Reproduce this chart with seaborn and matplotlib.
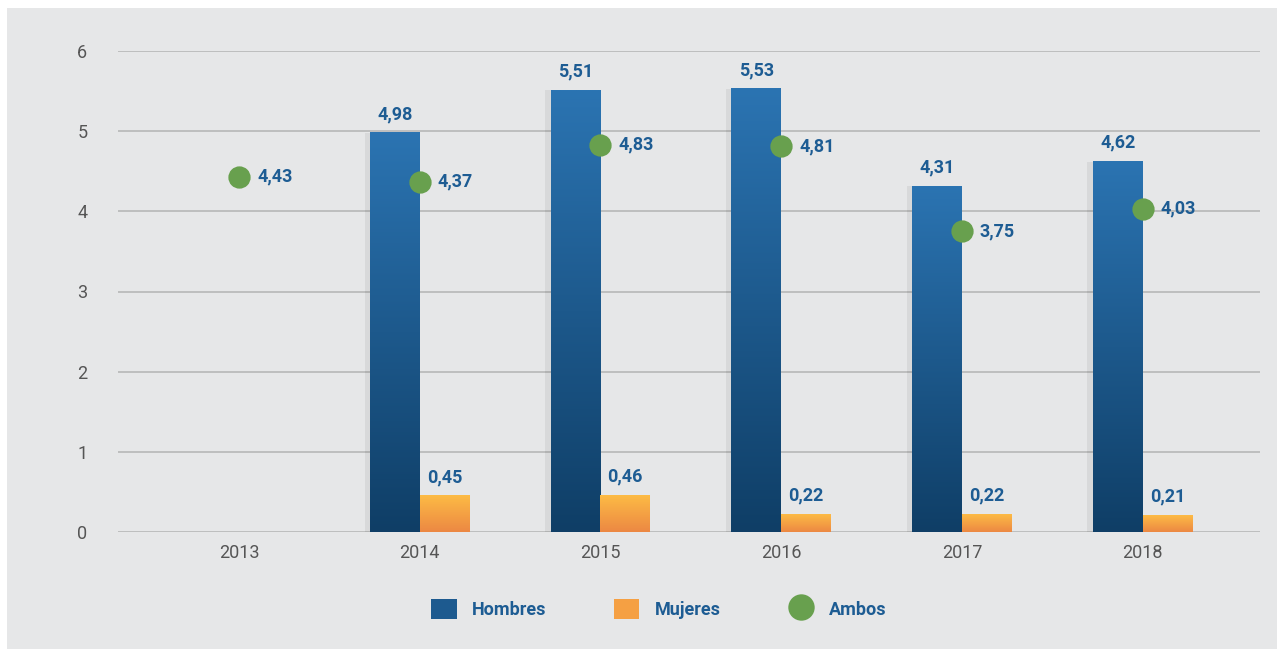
import numpy as np
import pandas as pd
import matplotlib
matplotlib.use("Agg")
import matplotlib.pyplot as plt
from matplotlib.patches import Rectangle, Patch
from matplotlib.lines import Line2D
from matplotlib.colors import LinearSegmentedColormap
import seaborn as sns

years = ["2013", "2014", "2015", "2016", "2017", "2018"]
hombres = [None, 4.98, 5.51, 5.53, 4.31, 4.62]
mujeres = [None, 0.45, 0.46, 0.22, 0.22, 0.21]
ambos = [4.43, 4.37, 4.83, 4.81, 3.75, 4.03]
series = ["Hombres", "Mujeres", "Ambos"]
yticks = [0, 1, 2, 3, 4, 5, 6]

BG = "#e6e7e8"
LABEL = "#1d5c93"
GREEN = "#68a04e"
H_TOP, H_BOT = "#2b74b2", "#0f3e66"
M_TOP, M_BOT = "#fdbb45", "#ec8843"

sns.set_theme(style="white")
plt.rcParams["font.family"] = ["Roboto", "DejaVu Sans"]

W, H = 1277, 649
fig = plt.figure(figsize=(W / 100, H / 100), dpi=100, facecolor="white")
fig.patches.append(Rectangle((7 / W, 0), 1, 1 - 8 / H, transform=fig.transFigure,
                             facecolor=BG, edgecolor="none", zorder=-10))
ax = fig.add_axes([118 / W, 1 - 532 / H, (1260 - 118) / W, (532 - 51) / H])
ax.set_facecolor("none")

rows = []
for y, h, m in zip(years, hombres, mujeres):
    if h is not None:
        rows.append((y, "Hombres", h))
    if m is not None:
        rows.append((y, "Mujeres", m))
df = pd.DataFrame(rows, columns=["year", "serie", "value"])

sns.barplot(data=df, x="year", y="value", hue="serie", order=years,
            hue_order=["Hombres", "Mujeres"], width=0.55, ax=ax,
            palette=[H_TOP, M_TOP], legend=False, saturation=1, zorder=3)

grads = [LinearSegmentedColormap.from_list("h", [H_BOT, H_TOP]),
         LinearSegmentedColormap.from_list("m", [M_BOT, M_TOP])]
grad = np.linspace(0, 1, 256).reshape(-1, 1)
for cont, cmap in zip(ax.containers, grads):
    for p in cont.patches:
        x0, w, hgt = p.get_x(), p.get_width(), p.get_height()
        if not np.isfinite(hgt) or hgt <= 0:
            continue
        # soft shadow
        ax.add_patch(Rectangle((x0 - 0.03, 0), w, hgt, facecolor="black",
                               alpha=0.06, edgecolor="none", zorder=2))
        ax.imshow(grad, cmap=cmap, extent=(x0, x0 + w, 0, hgt), origin="lower",
                  aspect="auto", zorder=3.5)
        p.set_alpha(0)
    labels = [f"{v:.2f}".replace(".", ",") if np.isfinite(v) else "" for v in cont.datavalues]
    ax.bar_label(cont, labels=labels, padding=7, color=LABEL, fontsize=13,
                 fontweight="bold", zorder=6)

sns.pointplot(x=years, y=ambos, order=years, linestyle="none", color=GREEN,
              markers="o", markersize=14, ax=ax, zorder=5, errorbar=None)
for i, v in enumerate(ambos):
    ax.annotate(f"{v:.2f}".replace(".", ","), (i, v), xytext=(13, 0),
                textcoords="offset points", va="center", ha="left",
                color=LABEL, fontsize=13, fontweight="bold", zorder=6)

ax.set_ylim(0, 6)
ax.set_xlim(-0.67, 5.65)
ax.set_yticks(yticks)
ax.yaxis.grid(True, color="#b3b3b3", linewidth=1.1, zorder=0)
ax.xaxis.grid(False)
ax.set_axisbelow(True)
for s in ax.spines.values():
    s.set_visible(False)
ax.tick_params(axis="both", length=0, labelsize=13, labelcolor="#555555")
ax.tick_params(axis="y", pad=22)
ax.tick_params(axis="x", pad=9)
ax.set_xlabel("")
ax.set_ylabel("")

handles = [Patch(facecolor="#1d5a8f", edgecolor="none"),
           Patch(facecolor="#f5a043", edgecolor="none"),
           Line2D([], [], marker="o", linestyle="none", markersize=19,
                  markerfacecolor=GREEN, markeredgecolor="none")]
leg = fig.legend(handles, series, loc="center", bbox_to_anchor=(0.516, 1 - 609 / H),
                 ncol=3, frameon=False, handlelength=1.4, handleheight=1.4,
                 columnspacing=3.75, handletextpad=0.85,
                 prop={"weight": "bold", "size": 13})
for t in leg.get_texts():
    t.set_color(LABEL)

fig.savefig("out.png", dpi=100, facecolor="white")
